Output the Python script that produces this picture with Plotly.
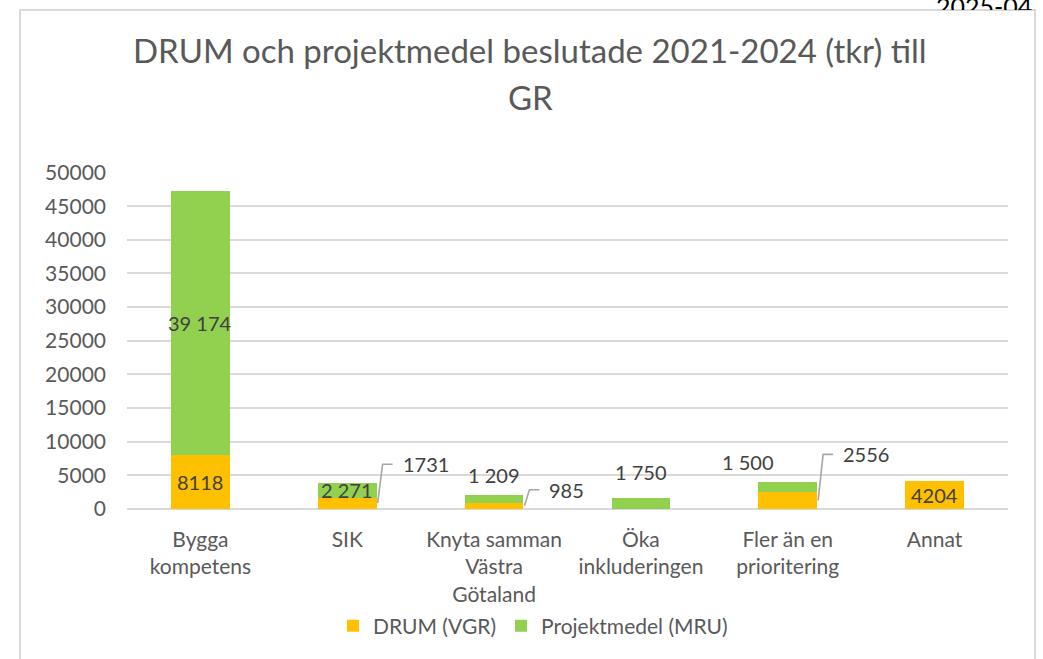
import plotly.graph_objects as go

# ---------------- data ----------------
categories = ["Bygga<br>kompetens", "SIK", "Knyta samman<br>Västra<br>Götaland",
              "Öka<br>inkluderingen", "Fler än en<br>prioritering", "Annat"]
drum_vgr = [8118, 1731, 985, 0, 2556, 4204]
projektmedel_mru = [39174, 2271, 1209, 1750, 1500, 0]
y_ticks = [0, 5000, 10000, 15000, 20000, 25000, 30000, 35000, 40000, 45000, 50000]
series_names = ["DRUM (VGR)", "Projektmedel (MRU)"]
title_lines = ["DRUM och projektmedel beslutade 2021-2024 (tkr) till", "GR"]
corner_text = "2025-04"

# ---------------- geometry / style ----------------
W, H = 1043, 659
PX0, PX1 = 127, 1008          # plot area x (px)
PY0, PY1 = 509, 172.5         # y=0 and y=50000 (px)
YMAX = 50000
n = len(categories)
ppx = (PX1 - PX0) / n
ppy = (PY0 - PY1) / YMAX
BAR_W = 0.4

FONT = "Lato"
GREY = "#595959"
LABEL = "#404040"
ORANGE = "#FFC000"
GREEN = "#92D050"
LINE = "#A6A6A6"

def dx(px):
    return px / ppx

def dy(px):
    return px / ppy

xs = list(range(n))

fig = go.Figure()
fig.add_trace(go.Bar(x=xs, y=drum_vgr, name=series_names[0], width=BAR_W,
                     marker=dict(color=ORANGE, line=dict(width=0))))
fig.add_trace(go.Bar(x=xs, y=projektmedel_mru, name=series_names[1], width=BAR_W,
                     marker=dict(color=GREEN, line=dict(width=0))))

# corner clipped text (page cut off above the chart frame)
fig.add_trace(go.Scatter(x=[936], y=[0.0], text=[corner_text], mode="text",
                         textposition="middle right", cliponaxis=True,
                         textfont=dict(family=FONT, size=25, color="#000000"),
                         xaxis="x2", yaxis="y2", showlegend=False, hoverinfo="skip"))

def fmt_plain(v):
    return f"{v}"

def fmt_space(v):
    return f"{v:,}".replace(",", " ")

annotations = []
shapes = []

# frame
shapes.append(dict(type="rect", xref="paper", yref="paper",
                   x0=20 / W, x1=1035 / W, y0=-0.05, y1=1 - 10 / H,
                   line=dict(color="#D9D9D9", width=2), fillcolor="rgba(0,0,0,0)",
                   layer="below"))

def ann(x, y, text, xanchor="center", xshift=0, yshift=0):
    annotations.append(dict(x=x, y=y, xref="x", yref="y", text=text, showarrow=False,
                            xanchor=xanchor, yanchor="middle", xshift=xshift, yshift=yshift,
                            font=dict(family=FONT, size=20, color=LABEL)))

# label placement: DRUM (bottom segment)
drum_place = ["center", ("callout", 39), ("callout", 16), None, ("callout", 46), "center"]
for i, v in enumerate(drum_vgr):
    p = drum_place[i]
    if not v or p is None:
        continue
    if p == "center":
        ann(i, v / 2, fmt_plain(v))
    else:
        rise = p[1]
        xr = i + BAR_W / 2
        y_start = v / 2
        y_end = y_start + dy(rise)
        x_kink = xr + dx(6)
        x_tip = x_kink + dx(10)
        shapes.append(dict(type="path", xref="x", yref="y",
                           path=f"M {xr + dx(1)},{y_start} L {x_kink},{y_end} L {x_tip},{y_end}",
                           line=dict(color=LINE, width=1.6)))
        ann(x_tip + dx(8), y_end, fmt_plain(v), xanchor="left")

# label placement: Projektmedel (top segment)
mru_place = ["center", "center", ("above", 0, 19), ("above", 0, 25), ("above", -40, 20), None]
for i, v in enumerate(projektmedel_mru):
    p = mru_place[i]
    if not v or p is None:
        continue
    base = drum_vgr[i]
    if p == "center":
        ann(i, base + v / 2, fmt_space(v))
    else:
        ann(i, base + v, fmt_space(v), xshift=p[1], yshift=p[2])

# title
annotations.append(dict(x=530 / W, y=1 - 50 / H, xref="paper", yref="paper",
                        text=title_lines[0], showarrow=False, xanchor="center", yanchor="middle",
                        font=dict(family=FONT, size=33, color=GREY)))
annotations.append(dict(x=530 / W, y=1 - 97 / H, xref="paper", yref="paper",
                        text=title_lines[1], showarrow=False, xanchor="center", yanchor="middle",
                        font=dict(family=FONT, size=33, color=GREY)))

fig.update_layout(
    width=W, height=H,
    margin=dict(l=0, r=0, t=0, b=0, autoexpand=False),
    paper_bgcolor="white", plot_bgcolor="white",
    barmode="stack", bargap=0,
    showlegend=True,
    legend=dict(orientation="h", x=533 / W, y=1 - 626 / H, xanchor="center", yanchor="middle",
                font=dict(family=FONT, size=21, color=GREY), traceorder="normal",
                bgcolor="rgba(0,0,0,0)"),
    font=dict(family=FONT, color=GREY),
    xaxis=dict(domain=[PX0 / W, PX1 / W], range=[-0.5, n - 0.5], tickvals=xs, ticktext=categories,
               showgrid=False, zeroline=False, showline=False, ticks="",
               tickfont=dict(family=FONT, size=21, color=GREY), ticklabelstandoff=16,
               fixedrange=True),
    yaxis=dict(domain=[(H - PY0) / H, (H - PY1) / H], range=[0, YMAX], tickvals=y_ticks,
               ticktext=[str(t) for t in y_ticks],
               showgrid=True, gridcolor="#D9D9D9", gridwidth=1.5,
               zeroline=True, zerolinecolor="#D9D9D9", zerolinewidth=2,
               showline=False, ticks="", ticklabelstandoff=20,
               tickfont=dict(family=FONT, size=21, color=GREY), fixedrange=True),
    xaxis2=dict(domain=[900 / W, 1.0], range=[900, W], visible=False, anchor="y2", fixedrange=True),
    yaxis2=dict(domain=[1 - 10 / H, 1.0], range=[0, 10], visible=False, anchor="x2", fixedrange=True),
    annotations=annotations,
    shapes=shapes,
)

fig.write_html("out.html", config={"displayModeBar": False},
               post_script="document.body.style.margin='0';")
